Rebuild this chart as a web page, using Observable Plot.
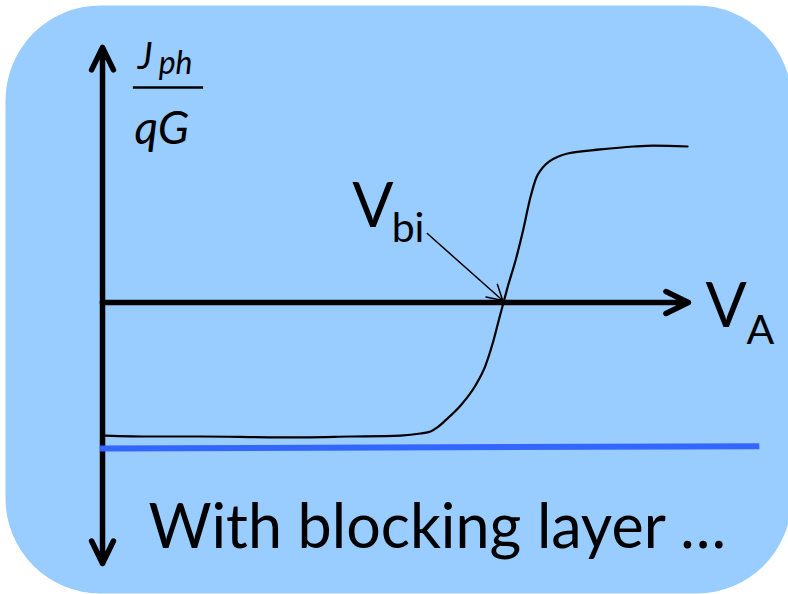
<!DOCTYPE html>
<html><head><meta charset="utf-8">
<script src="https://cdn.jsdelivr.net/npm/d3@7"></script>
<script src="https://cdn.jsdelivr.net/npm/@observablehq/plot@0.6"></script>
<style>
html,body{margin:0;padding:0;background:#fff;}
#chart{width:788px;height:594px;}
</style></head><body><div id="chart"></div>
<script>
// Units: x = V_A / V_bi, y = J_ph / qG (saturation = 1)
const curveV = [0.005, 0.120, 0.244, 0.444, 0.618, 0.743, 0.793, 0.818, 0.835, 0.855, 0.893, 0.930, 0.955, 0.975, 0.988, 1.000, 1.010, 1.030, 1.047, 1.067, 1.082, 1.092, 1.105, 1.117, 1.137, 1.160, 1.242, 1.324, 1.374, 1.459];
const curveJ = [-0.853, -0.859, -0.859, -0.865, -0.859, -0.853, -0.840, -0.827, -0.801, -0.756, -0.660, -0.532, -0.404, -0.244, -0.115, 0.000, 0.096, 0.269, 0.442, 0.673, 0.801, 0.846, 0.885, 0.910, 0.936, 0.955, 0.981, 1.000, 1.006, 1.000];

// blocking-layer line
const blockV = [-0.007, 1.638];
const blockJ = [-0.936, -0.921];

// axis extents
const axisXEnd = 1.461;
const axisYTop = 1.635;
const axisYBottom = -1.673;

// V_bi pointer
const vbiFrom = [0.810, 0.442];
const vbiTo = [0.998, 0.013];

// text labels (data units, baseline)
const labelText = ["V", "A", "V", "bi", "J", "ph", "qG"];
const labelX = [1.504, 1.606, 0.623, 0.721, 0.088, 0.140, 0.080];
const labelY = [-0.160, -0.263, 0.487, 0.385, 1.500, 1.462, 1.019];
const labelSize = [61, 41, 61, 41, 37, 32, 46];
const labelItalic = [false, false, false, false, true, true, true];
const fracBar = {y: 1.378, x1: 0.077, x2: 0.252};
const caption = "With blocking layer …";

const curve = curveV.map((v, i) => ({v, j: curveJ[i]}));
const block = blockV.map((v, i) => ({v, j: blockJ[i]}));
const labels = labelText.map((t, i) => ({t, x: labelX[i], y: labelY[i], s: labelSize[i], it: labelItalic[i] ? "italic" : "normal"}));
const axes = [
  {x1: 0, y1: 0, x2: axisXEnd, y2: 0},
  {x1: 0, y1: 0, x2: 0, y2: axisYTop},
  {x1: 0, y1: 0, x2: 0, y2: axisYBottom}
];
const font = "Lato, 'Open Sans', sans-serif";

const textMarks = labels.map(d => Plot.text([d], {
  x: "x", y: "y", text: "t", fontSize: d.s, fontStyle: d.it, fontFamily: font,
  textAnchor: "start", lineAnchor: "bottom", fill: "black"
}));

const chart = Plot.plot({
  width: 788, height: 594, margin: 0,
  x: {domain: [-0.2544, 1.7107], axis: null},
  y: {domain: [-1.8718, 1.9359], axis: null},
  style: {background: "transparent", overflow: "visible"},
  marks: [
    Plot.frame({fill: "#99ccff", stroke: "none", rx: 95, insetLeft: 5, insetTop: 5, insetBottom: 1, insetRight: -3}),
    Plot.arrow(axes, {x1: "x1", y1: "y1", x2: "x2", y2: "y2", stroke: "black", strokeWidth: 5.5, headLength: 6.8, headAngle: 52, strokeLinecap: "round", strokeLinejoin: "round"}),
    Plot.line(block, {x: "v", y: "j", stroke: "#3366ff", strokeWidth: 6, strokeLinecap: "butt"}),
    Plot.line(curve, {x: "v", y: "j", stroke: "black", strokeWidth: 2.2, curve: "monotone-x"}),
    Plot.arrow([{x1: vbiFrom[0], y1: vbiFrom[1], x2: vbiTo[0], y2: vbiTo[1]}], {x1: "x1", y1: "y1", x2: "x2", y2: "y2", stroke: "black", strokeWidth: 1.5, headLength: 17, headAngle: 60}),
    Plot.ruleY([fracBar], {y: "y", x1: "x1", x2: "x2", stroke: "black", strokeWidth: 2.5}),
    ...textMarks,
    Plot.text([caption], {frameAnchor: "bottom-left", dx: 148, dy: -47, text: d => d, fontSize: 61, fontFamily: font, textAnchor: "start", lineAnchor: "bottom", fill: "black"})
  ]
});
document.getElementById("chart").append(chart);
</script>
</body></html>
